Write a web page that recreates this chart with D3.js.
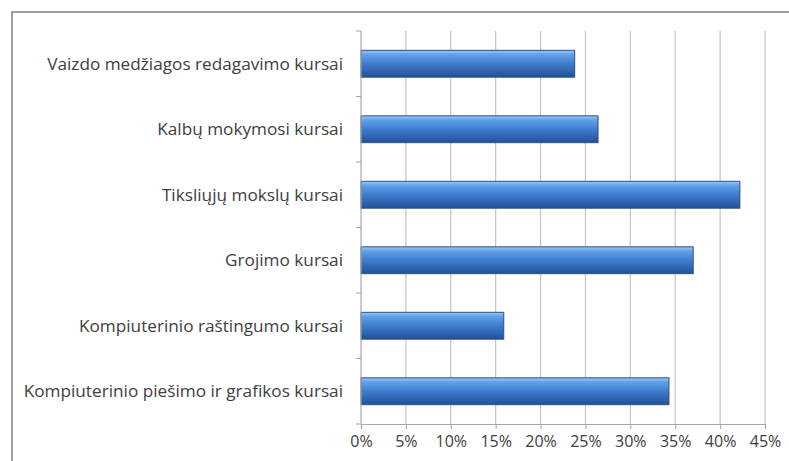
<!DOCTYPE html>
<html>
<head>
<meta charset="utf-8">
<script src="https://cdn.jsdelivr.net/npm/d3@7"></script>
<style>
  html, body { margin: 0; padding: 0; background: #fff; }
  svg { display: block; }
  text { font-family: "Open Sans", "Noto Sans", sans-serif; fill: #404040; }
</style>
</head>
<body>
<svg id="chart" width="789" height="461"></svg>
<script>
// Course categories, top to bottom
const categories = [
  "Vaizdo medžiagos redagavimo kursai",
  "Kalbų mokymosi kursai",
  "Tiksliųjų mokslų kursai",
  "Grojimo kursai",
  "Kompiuterinio raštingumo kursai",
  "Kompiuterinio piešimo ir grafikos kursai"
];
// Share of respondents (fraction)
const values = [0.238, 0.264, 0.422, 0.370, 0.159, 0.343];
// Axis ticks
const tickValues = [0, 0.05, 0.10, 0.15, 0.20, 0.25, 0.30, 0.35, 0.40, 0.45];

const svg = d3.select("#chart");
const plot = { left: 361, right: 765, top: 31, bottom: 424 };

const x = d3.scaleLinear().domain([0, 0.45]).range([plot.left, plot.right]);
const y = d3.scaleBand().domain(categories).range([plot.top, plot.bottom]).paddingInner(0.59).paddingOuter(0.295);

// chart frame
svg.append("path")
  .attr("d", `M12,${461} L12,12 L789,12`)
  .attr("fill", "none").attr("stroke", "#a0a0a0").attr("stroke-width", 2);

const defs = svg.append("defs");
const grad = defs.append("linearGradient").attr("id", "barGrad")
  .attr("x1", 0).attr("y1", 0).attr("x2", 0).attr("y2", 1);
grad.append("stop").attr("offset", "0%").attr("stop-color", "#9ccbf7");
grad.append("stop").attr("offset", "15%").attr("stop-color", "#62a2e8");
grad.append("stop").attr("offset", "50%").attr("stop-color", "#3f7dcc");
grad.append("stop").attr("offset", "100%").attr("stop-color", "#22509a");

const blur = defs.append("filter").attr("id", "soft");
blur.append("feGaussianBlur").attr("stdDeviation", 0.6);

// vertical gridlines
svg.append("g").selectAll("line").data(tickValues.slice(1)).join("line")
  .attr("x1", d => x(d)).attr("x2", d => x(d))
  .attr("y1", plot.top).attr("y2", plot.bottom)
  .attr("stroke", "#c4c4c4").attr("stroke-width", 1.2);

// bars
svg.append("g").attr("filter", "url(#soft)").selectAll("rect").data(values).join("rect")
  .attr("x", x(0))
  .attr("y", (d, i) => y(categories[i]))
  .attr("width", d => x(d) - x(0))
  .attr("height", y.bandwidth())
  .attr("fill", "url(#barGrad)")
  .attr("stroke", "#2c4f86").attr("stroke-width", 1);

// category axis
const yAxis = svg.append("g").attr("transform", `translate(${plot.left},0)`);
yAxis.append("line").attr("x1", 0).attr("x2", 0).attr("y1", plot.top).attr("y2", plot.bottom)
  .attr("stroke", "#a8a8a8").attr("stroke-width", 1.2);
const bandEdges = categories.map(c => y(c) - y.step() * y.paddingInner() / 2).concat([plot.bottom]);
yAxis.selectAll("line.tick").data(bandEdges).join("line").attr("class", "tick")
  .attr("x1", -5).attr("x2", 0).attr("y1", d => d).attr("y2", d => d)
  .attr("stroke", "#a8a8a8");
yAxis.selectAll("text").data(categories).join("text")
  .attr("x", -18).attr("y", d => y(d) + y.bandwidth() / 2)
  .attr("dy", "0.35em").attr("text-anchor", "end")
  .style("font-size", "17.2px")
  .text(d => d);

// value axis
const xAxis = svg.append("g").attr("transform", `translate(0,${plot.bottom})`)
  .call(d3.axisBottom(x).tickValues(tickValues).tickFormat(d3.format(".0%")).tickSize(5).tickPadding(7));
xAxis.select(".domain").attr("stroke", "#a8a8a8").attr("stroke-width", 1.2);
xAxis.selectAll(".tick line").attr("stroke", "#a8a8a8");
xAxis.selectAll("text").style("font-size", "16px").style("fill", "#404040");
</script>
</body>
</html>
